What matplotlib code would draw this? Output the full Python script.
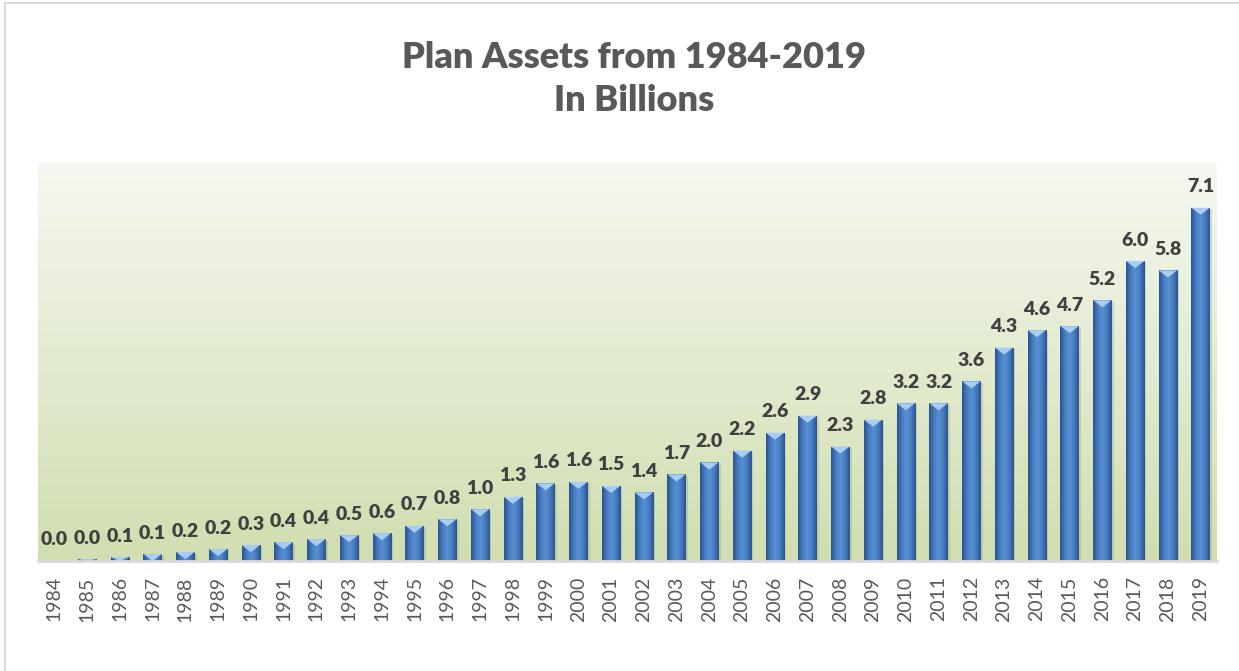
import numpy as np
import matplotlib.pyplot as plt
from matplotlib.colors import LinearSegmentedColormap
from matplotlib.patches import Polygon, Rectangle

plt.rcParams['font.family'] = ['Lato', 'DejaVu Sans']

years = ['1984', '1985', '1986', '1987', '1988', '1989', '1990', '1991', '1992',
         '1993', '1994', '1995', '1996', '1997', '1998', '1999', '2000', '2001',
         '2002', '2003', '2004', '2005', '2006', '2007', '2008', '2009', '2010',
         '2011', '2012', '2013', '2014', '2015', '2016', '2017', '2018', '2019']
assets = [0.01, 0.04, 0.08, 0.14, 0.18, 0.24, 0.32, 0.38, 0.44, 0.52, 0.56, 0.71,
          0.84, 1.04, 1.29, 1.56, 1.59, 1.51, 1.38, 1.74, 1.98, 2.22, 2.58, 2.92,
          2.30, 2.84, 3.17, 3.17, 3.61, 4.29, 4.64, 4.72, 5.24, 6.03, 5.84, 7.10]

title = 'Plan Assets from 1984-2019\nIn Billions'

bar_w = 0.56
y_max = 8.0

fig = plt.figure(figsize=(12.39, 6.71), dpi=100)
ax = fig.add_axes([38 / 1239, 1 - 561 / 671, (1217 - 38) / 1239, (561 - 163) / 671])

x = np.arange(len(years))
ax.set_xlim(-0.5, len(years) - 0.5)
ax.set_ylim(0, y_max)

# green wash behind the bars, pale at the top
bg = LinearSegmentedColormap.from_list('bg', ['#d0deb0', '#f6f8f1'])
ax.imshow(np.linspace(0, 1, 256).reshape(-1, 1), cmap=bg, origin='lower',
          extent=(-0.5, len(years) - 0.5, 0, y_max), aspect='auto', zorder=0)

# bevelled bars: side shading across the width plus a light wedge on top
bar_cm = LinearSegmentedColormap.from_list(
    'bar', ['#2c5290', '#467cc0', '#5890d2', '#467cc0', '#2c5290'])
shade = np.linspace(0, 1, 64).reshape(1, -1)
wedge = 7 / 49.6
for xi, v in zip(x, assets):
    # soft shadow
    ax.add_patch(Rectangle((xi - bar_w / 2 + 0.06, 0), bar_w, v - 0.03,
                           facecolor='#7a8a6a', alpha=0.25, lw=0, zorder=1))
    im = ax.imshow(shade, cmap=bar_cm, aspect='auto', zorder=2,
                   extent=(xi - bar_w / 2, xi + bar_w / 2, 0, v))
    clip = Rectangle((xi - bar_w / 2, 0), bar_w, v, transform=ax.transData)
    im.set_clip_path(clip)
    d = min(wedge, v)
    ax.add_patch(Polygon([(xi - bar_w / 2, v), (xi + bar_w / 2, v), (xi, v - d)],
                         closed=True, facecolor='#a9cdf3', edgecolor='none', zorder=3))
    ax.annotate(f'{v:.1f}', (xi, v), xytext=(0, 9), textcoords='offset points',
                ha='center', va='bottom', fontsize=14, fontweight='heavy',
                color='#404040', zorder=4)

ax.set_xticks(x)
ax.set_xticklabels(years, rotation=90, fontsize=14, color='#595959')
ax.tick_params(axis='x', length=0, pad=11)
ax.set_yticks([])
for side in ['top', 'right', 'left']:
    ax.spines[side].set_visible(False)
ax.spines['bottom'].set_color('#d9d9d9')
ax.spines['bottom'].set_linewidth(2)
ax.spines['bottom'].set_zorder(5)

fig.text(634 / 1239, 1 - 79 / 671, title, ha='center', va='center',
         fontsize=26, fontweight='heavy', color='#595959', linespacing=1.4)

# chart frame
fig.patches.append(Rectangle((5 / 1239, -0.01), 1.05, 1 - 1 / 671 + 0.01 - 2 / 671,
                             transform=fig.transFigure, fill=False,
                             edgecolor='#d9d9d9', lw=1.5))

fig.savefig('out.png', dpi=100)
